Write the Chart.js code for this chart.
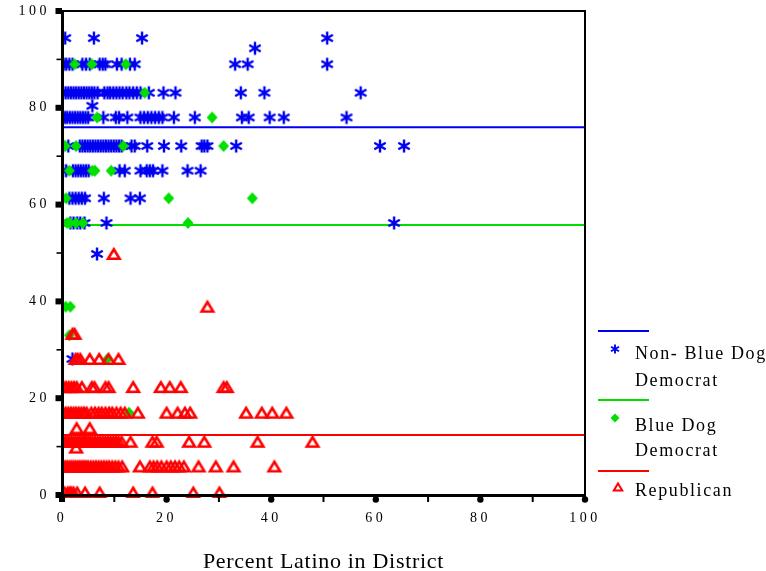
<!DOCTYPE html>
<html>
<head>
<meta charset="utf-8">
<script src="https://cdn.jsdelivr.net/npm/chart.js@4.4.1/dist/chart.umd.min.js"></script>
<style>
html,body{margin:0;padding:0;background:#fff;}
#wrap{position:relative;width:766px;height:571px;overflow:hidden;background:#fff;}
#chart{position:absolute;left:0;top:0;}
.leg-line{position:absolute;left:598px;width:51px;height:2px;}
.leg-sym{position:absolute;}
.leg-text{position:absolute;left:635px;font-family:'Liberation Serif',serif;font-size:18px;letter-spacing:1.6px;white-space:nowrap;color:#000;}
</style>
</head>
<body>
<div id="wrap">
  <canvas id="chart" width="766" height="571"></canvas>
  <div class="leg-line" style="top:330px;background:#0000f0"></div>
  <canvas class="leg-sym" id="symStar" style="left:609px;top:343px" width="12" height="12"></canvas>
  <div class="leg-text" style="top:340px;line-height:27px">Non- Blue Dog<br>Democrat</div>
  <div class="leg-line" style="top:399px;background:#00e000"></div>
  <canvas class="leg-sym" id="symDiamond" style="left:609px;top:412px" width="12" height="12"></canvas>
  <div class="leg-text" style="top:412.5px;line-height:25px">Blue Dog<br>Democrat</div>
  <div class="leg-line" style="top:470px;background:#ff0000"></div>
  <canvas class="leg-sym" id="symTri" style="left:612px;top:481px" width="12" height="12"></canvas>
  <div class="leg-text" style="top:477px;line-height:27px">Republican</div>
</div>
<script>
// ---------------- data ----------------
const xTitle = 'Percent Latino in District';
const seriesNames = ['Non- Blue Dog Democrat', 'Blue Dog Democrat', 'Republican'];
const xTicks = [0, 20, 40, 60, 80, 100];
const yTicks = [0, 20, 40, 60, 80, 100];

// mean lines (horizontal reference lines)
const meanNonBlueDog = 76.0;
const meanBlueDog = 55.8;
const meanRepublican = 12.4;

// [percent Latino, score]
const nonBlueDog = [
  [0.6,94.4],[6.1,94.4],[15.3,94.4],[50.7,94.4],[36.9,92.3],
  [0.3,89.0],[0.8,89.0],[1.4,89.0],[2.0,89.0],[3.9,89.0],[4.6,89.0],[5.3,89.0],[7.2,89.0],[7.8,89.0],[8.3,89.0],
  [10.5,89.0],[11.4,89.0],[13.0,89.0],[13.9,89.0],[33.1,89.0],[35.5,89.0],[50.7,89.0],
  [0.2,83.1],[0.7,83.1],[1.2,83.1],[1.7,83.1],[2.2,83.1],[2.7,83.1],[3.2,83.1],[3.7,83.1],[4.2,83.1],[4.7,83.1],
  [5.2,83.1],[5.7,83.1],[6.2,83.1],[6.8,83.1],[8.1,83.1],[8.7,83.1],[9.2,83.1],[9.8,83.1],[10.4,83.1],[11.0,83.1],
  [11.6,83.1],[12.3,83.1],[12.9,83.1],[13.6,83.1],[14.3,83.1],[15.0,83.1],[16.6,83.1],[19.4,83.1],[21.7,83.1],
  [34.2,83.1],[38.7,83.1],[57.1,83.1],
  [5.8,80.4],
  [0.2,78.0],[0.6,78.0],[1.0,78.0],[1.5,78.0],[2.0,78.0],[2.5,78.0],[3.0,78.0],[3.5,78.0],[4.0,78.0],[4.5,78.0],
  [5.0,78.0],[7.9,78.0],[10.3,78.0],[10.9,78.0],[12.5,78.0],[15.0,78.0],[15.7,78.0],[16.4,78.0],[17.1,78.0],
  [17.8,78.0],[18.5,78.0],[19.2,78.0],[21.4,78.0],[25.4,78.0],[34.4,78.0],[35.7,78.0],[39.7,78.0],[42.4,78.0],[54.4,78.0],
  [0.2,72.1],[1.2,72.1],[3.4,72.1],[3.9,72.1],[4.4,72.1],[4.9,72.1],[5.4,72.1],[5.9,72.1],[6.4,72.1],[6.9,72.1],
  [7.4,72.1],[7.9,72.1],[8.4,72.1],[8.9,72.1],[9.4,72.1],[9.9,72.1],[10.4,72.1],[10.9,72.1],[11.4,72.1],[13.3,72.1],
  [13.9,72.1],[16.3,72.1],[19.5,72.1],[22.8,72.1],[26.7,72.1],[27.2,72.1],[27.8,72.1],[33.3,72.1],[60.8,72.1],[65.4,72.1],
  [0.2,67.0],[0.8,67.0],[2.1,67.0],[2.6,67.0],[3.1,67.0],[3.6,67.0],[4.1,67.0],[4.6,67.0],[5.1,67.0],[11.0,67.0],
  [12.0,67.0],[15.0,67.0],[16.2,67.0],[16.8,67.0],[17.4,67.0],[19.2,67.0],[24.0,67.0],[26.5,67.0],
  [1.4,61.3],[2.0,61.3],[2.6,61.3],[3.2,61.3],[3.8,61.3],[4.4,61.3],[8.0,61.3],[13.1,61.3],[14.9,61.3],
  [1.6,56.2],[2.2,56.2],[2.9,56.2],[3.5,56.2],[4.3,56.2],[8.5,56.2],[63.5,56.2],
  [6.7,49.8],[2.0,28.1]
];

const blueDog = [
  [2.4,89.0],[5.7,89.0],[12.2,89.0],
  [15.8,83.1],
  [6.7,78.0],[28.7,78.0],
  [0.6,72.1],[2.7,72.1],[11.7,72.1],[30.9,72.1],
  [1.4,67.0],[5.8,67.0],[6.3,67.0],[9.4,67.0],
  [0.8,61.3],[20.4,61.3],[36.4,61.3],
  [1.0,56.2],[1.5,56.2],[2.7,56.2],[4.0,56.2],[24.1,56.2],
  [0.7,38.9],[1.6,38.9],
  [1.4,33.0],[8.7,28.1],[12.8,17.0]
];

const republican = [
  [9.9,49.8],[27.8,38.9],
  [2.0,33.3],[2.4,33.3],
  [2.6,28.1],[3.0,28.1],[3.5,28.1],[5.3,28.1],[7.1,28.1],[8.9,28.1],[10.8,28.1],
  [0.3,22.3],[0.8,22.3],[1.3,22.3],[1.8,22.3],[2.3,22.3],[2.8,22.3],[3.8,22.3],[5.7,22.3],[6.2,22.3],[8.3,22.3],
  [8.9,22.3],[13.6,22.3],[18.9,22.3],[20.6,22.3],[22.7,22.3],[30.9,22.3],[31.5,22.3],
  [0.2,17.0],[0.7,17.0],[1.2,17.0],[1.7,17.0],[2.2,17.0],[2.7,17.0],[3.2,17.0],[3.7,17.0],[4.2,17.0],[4.7,17.0],
  [5.6,17.0],[6.3,17.0],[7.0,17.0],[7.6,17.0],[8.3,17.0],[9.0,17.0],[9.6,17.0],[10.4,17.0],[11.2,17.0],[12.0,17.0],
  [14.5,17.0],[20.0,17.0],[22.1,17.0],[23.5,17.0],[24.5,17.0],[35.2,17.0],[38.2,17.0],[40.2,17.0],[42.9,17.0],
  [2.8,13.8],[5.3,13.8],
  [0.2,11.0],[0.6,11.0],[1.0,11.0],[1.4,11.0],[1.8,11.0],[2.2,11.0],[2.6,11.0],[3.0,11.0],[3.4,11.0],[3.8,11.0],
  [4.2,11.0],[4.6,11.0],[5.0,11.0],[5.4,11.0],[5.8,11.0],[6.3,11.0],[6.8,11.0],[7.3,11.0],[7.8,11.0],[8.3,11.0],
  [8.8,11.0],[9.3,11.0],[9.8,11.0],[10.3,11.0],[10.8,11.0],[11.4,11.0],[13.1,11.0],[17.3,11.0],[18.1,11.0],
  [24.3,11.0],[27.2,11.0],[37.4,11.0],[47.9,11.0],
  [2.7,9.8],
  [0.2,5.9],[0.6,5.9],[1.0,5.9],[1.4,5.9],[1.8,5.9],[2.2,5.9],[2.6,5.9],[3.0,5.9],[3.4,5.9],[3.8,5.9],
  [4.2,5.9],[4.6,5.9],[5.0,5.9],[5.5,5.9],[6.0,5.9],[6.5,5.9],[7.0,5.9],[7.5,5.9],[8.0,5.9],[8.5,5.9],
  [9.0,5.9],[9.6,5.9],[10.2,5.9],[10.8,5.9],[11.5,5.9],[14.9,5.9],[16.8,5.9],[17.5,5.9],[18.2,5.9],[19.0,5.9],
  [20.0,5.9],[20.8,5.9],[21.6,5.9],[22.4,5.9],[23.3,5.9],[26.1,5.9],[29.4,5.9],[32.8,5.9],[40.6,5.9],
  [0.5,0.5],[1.1,0.5],[1.5,0.5],[1.8,0.5],[2.2,0.5],[2.9,0.5],[4.4,0.5],[7.2,0.5],[13.6,0.5],[17.3,0.5],[25.1,0.5],[30.1,0.5]
];

// ---------------- styles ----------------
const BLUE = '#0000f0', GREEN = '#00e000', RED = '#ff0000';

function makeCanvas(w, h) { const c = document.createElement('canvas'); c.width = w; c.height = h; return c; }
function drawStar(g, cx, cy, r, lw, color) {
  g.strokeStyle = color; g.lineWidth = lw; g.beginPath();
  for (const a of [90, 30, 150]) {
    const rad = a * Math.PI / 180, dx = Math.cos(rad) * r, dy = Math.sin(rad) * r;
    g.moveTo(cx - dx, cy - dy); g.lineTo(cx + dx, cy + dy);
  }
  g.stroke();
}
function drawTri(g, cx, cy, w, h, lw, color) {
  g.strokeStyle = color; g.lineWidth = lw; g.lineJoin = 'miter'; g.beginPath();
  g.moveTo(cx, cy - h / 2); g.lineTo(cx + w / 2, cy + h / 2); g.lineTo(cx - w / 2, cy + h / 2); g.closePath(); g.stroke();
}
function drawDiamond(g, cx, cy, rx, ry, color) {
  g.fillStyle = color; g.beginPath();
  g.moveTo(cx, cy - ry); g.lineTo(cx + rx, cy); g.lineTo(cx, cy + ry); g.lineTo(cx - rx, cy); g.closePath(); g.fill();
}
const starImg = makeCanvas(16, 16); drawStar(starImg.getContext('2d'), 8, 8, 6.6, 2.4, BLUE);
const triImg = makeCanvas(18, 16); drawTri(triImg.getContext('2d'), 9, 8, 11.5, 9.5, 2.6, RED);
const diaImg = makeCanvas(14, 14); drawDiamond(diaImg.getContext('2d'), 7, 7, 5.5, 6, GREEN);

// legend symbols
drawStar(document.getElementById('symStar').getContext('2d'), 6, 6, 4.6, 1.9, BLUE);
drawDiamond(document.getElementById('symDiamond').getContext('2d'), 6, 6, 4.5, 4.5, GREEN);
drawTri(document.getElementById('symTri').getContext('2d'), 6, 6, 8.5, 7, 2, RED);

const toXY = pts => pts.map(p => ({ x: p[0], y: p[1] }));
const hLine = v => [{ x: 0, y: v }, { x: 100, y: v }];
const CLIP = { left: 1, right: 7, top: 7, bottom: 3 };

// letter spacing: title normal-ish, tick labels spaced
const spacingPlugin = {
  id: 'spacing',
  beforeDraw(chart) { chart.ctx.letterSpacing = '0.7px'; },
  afterDatasetsDraw(chart) { chart.ctx.letterSpacing = '3.5px'; },
  afterDraw(chart) { chart.ctx.letterSpacing = '0px'; }
};

// frame (top/right) and tick marks
const framePlugin = {
  id: 'frame',
  afterDraw(chart) {
    const { ctx, chartArea: a, scales: { x, y } } = chart;
    ctx.save();
    ctx.strokeStyle = '#000'; ctx.fillStyle = '#000'; ctx.lineWidth = 2;
    ctx.beginPath(); ctx.moveTo(a.left, a.top); ctx.lineTo(a.right, a.top); ctx.lineTo(a.right, a.bottom); ctx.stroke();
    for (let v = 0; v <= 100; v += 10) {
      const px = x.getPixelForValue(v);
      if (v % 20 === 0) {
        if (v === 0) ctx.fillRect(px - 3, a.bottom, 6, 7);
        else { ctx.beginPath(); ctx.arc(px, a.bottom + 4.5, 3.2, 0, Math.PI * 2); ctx.fill(); }
      } else ctx.fillRect(px - 1, a.bottom, 2, 7);
      const py = y.getPixelForValue(v);
      if (v % 20 === 0) ctx.fillRect(a.left - 6.5, py - 3, 6.5, 6);
      else ctx.fillRect(a.left - 5.5, py - 0.8, 5.5, 1.6);
    }
    ctx.restore();
  }
};

const tickFont = { family: 'Liberation Serif', size: 14 };

new Chart(document.getElementById('chart'), {
  data: {
    datasets: [
      { type: 'line', label: seriesNames[0] + ' mean', data: hLine(meanNonBlueDog), borderColor: BLUE, borderWidth: 2, pointRadius: 0, order: 10 },
      { type: 'line', label: seriesNames[1] + ' mean', data: hLine(meanBlueDog), borderColor: GREEN, borderWidth: 2, pointRadius: 0, order: 10 },
      { type: 'line', label: seriesNames[2] + ' mean', data: hLine(meanRepublican), borderColor: RED, borderWidth: 2, pointRadius: 0, order: 10 },
      { type: 'scatter', label: seriesNames[0], data: toXY(nonBlueDog), pointStyle: starImg, pointRadius: 7, order: 3, clip: CLIP },
      { type: 'scatter', label: seriesNames[1], data: toXY(blueDog), pointStyle: diaImg, pointRadius: 6, order: 2, clip: CLIP },
      { type: 'scatter', label: seriesNames[2], data: toXY(republican), pointStyle: triImg, pointRadius: 7, order: 1, clip: CLIP }
    ]
  },
  options: {
    responsive: false,
    animation: false,
    devicePixelRatio: 1,
    events: [],
    layout: { padding: { left: 0, right: 181, top: 11, bottom: 0 } },
    plugins: { legend: { display: false }, tooltip: { enabled: false } },
    scales: {
      x: {
        type: 'linear', position: 'bottom', min: 0, max: 100,
        afterBuildTicks(s) { s.ticks = xTicks.map(v => ({ value: v })); },
        afterFit(s) { s.height = 76; s.paddingLeft = 0; s.paddingRight = 0; },
        ticks: { color: '#000', font: tickFont, padding: 15, z: 1, maxRotation: 0, autoSkip: false },
        grid: { display: true, drawOnChartArea: false, drawTicks: false },
        border: { display: true, color: '#000', width: 3, z: 1 },
        title: { display: true, text: xTitle, color: '#000', font: { family: 'Liberation Serif', size: 22, lineHeight: 1 }, padding: { top: 0, bottom: -2 } }
      },
      y: {
        type: 'linear', position: 'left', min: 0, max: 100,
        afterBuildTicks(s) { s.ticks = yTicks.map(v => ({ value: v })); },
        afterFit(s) { s.width = 62; s.paddingTop = 0; s.paddingBottom = 0; },
        ticks: { color: '#000', font: tickFont, padding: 12, z: 1, autoSkip: false },
        grid: { display: true, drawOnChartArea: false, drawTicks: false },
        border: { display: true, color: '#000', width: 3, z: 1 }
      }
    }
  },
  plugins: [spacingPlugin, framePlugin]
});
</script>
</body>
</html>
